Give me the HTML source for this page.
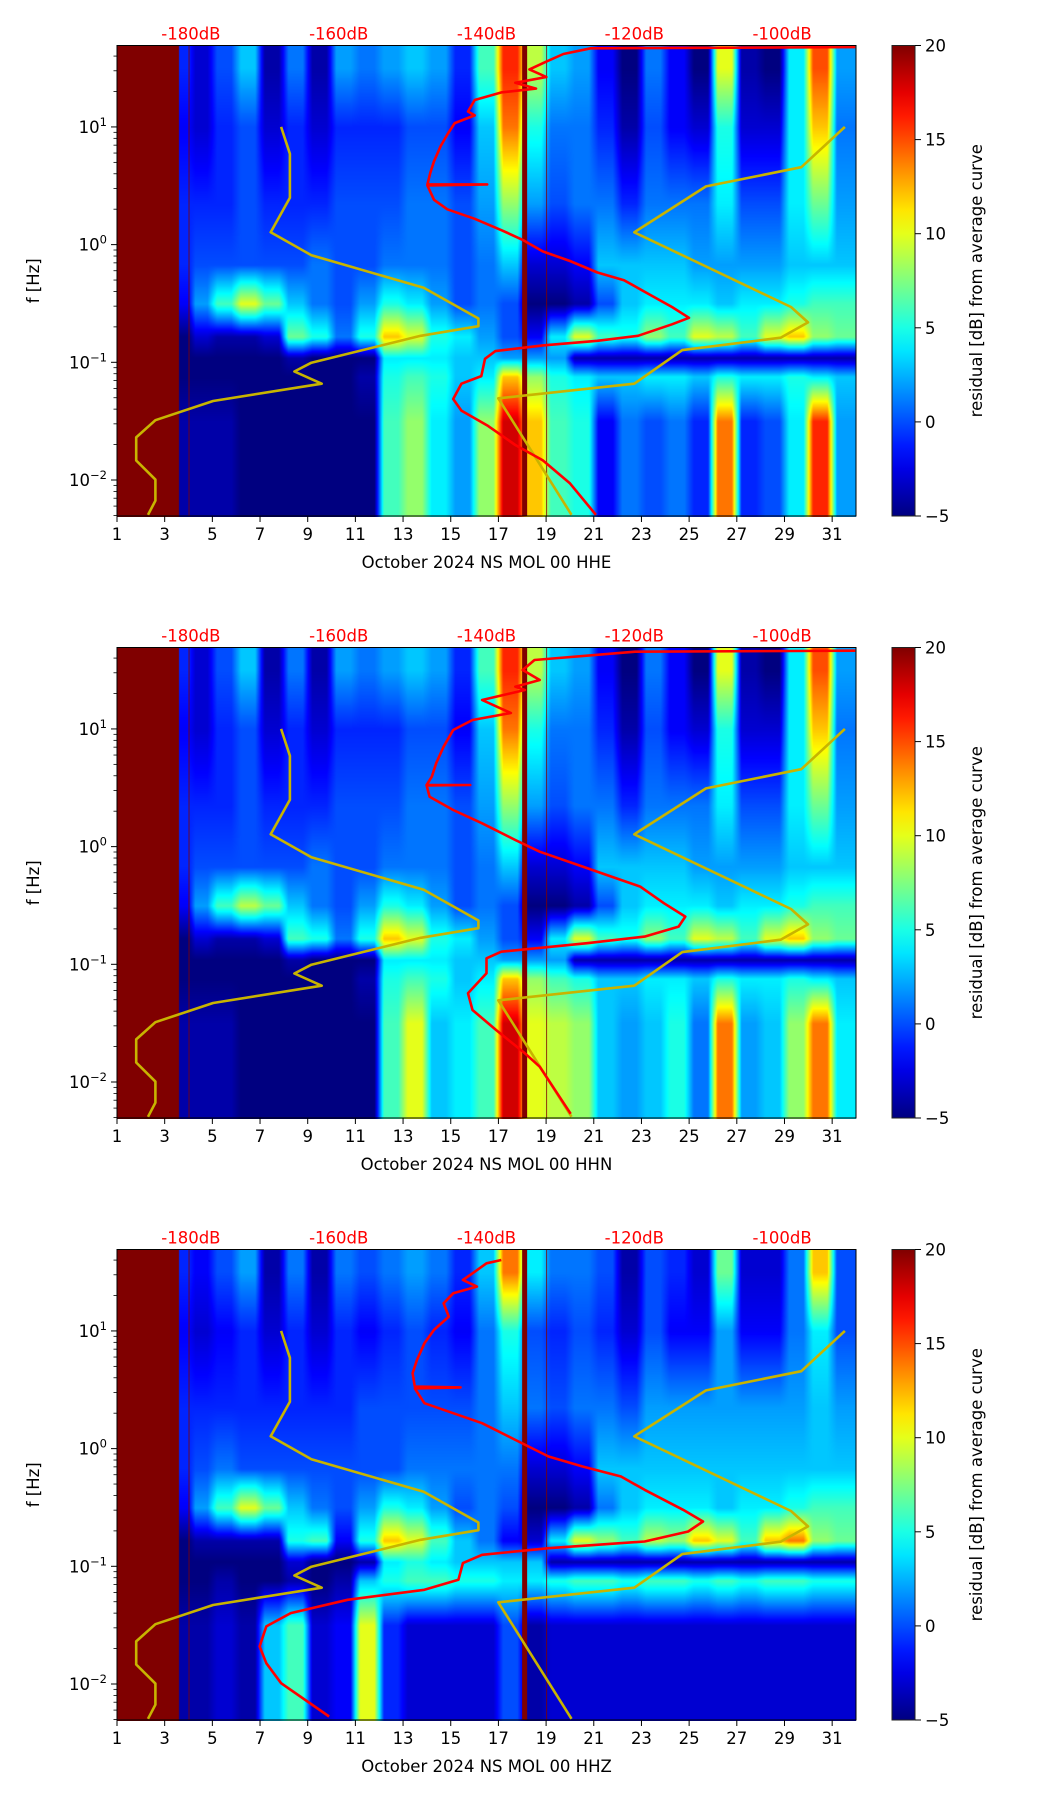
<!DOCTYPE html>
<html><head><meta charset="utf-8">
<style>
html,body{margin:0;padding:0;background:#fff;}
#root{position:relative;width:1052px;height:1806px;overflow:hidden;background:#fff;font-family:"DejaVu Sans","Liberation Sans",sans-serif;}
canvas{position:absolute;}
svg{position:absolute;left:0;top:0;}
</style></head>
<body>
<div id="root">
<canvas id="c0"></canvas>
<canvas id="c1"></canvas>
<canvas id="c2"></canvas>
<svg id="ov" width="1052" height="1806"></svg>
</div>
<script>
// ---- data ----
const columnDays = [3.8,4.5,5.5,6.5,7.5,8.5,9.5,10.5,11.5,12.5,13.5,14.5,15.5,16.5,17.5,18.5,19.5,20.5,21.5,22.5,23.5,24.5,25.5,26.5,27.5,28.5,29.5,30.5,31.5];
const bandLog10F = [1.5,1.0,0.35,-0.17,-0.5,-0.78,-0.96,-1.12,-1.5];
const p1B0=[-1,-3,0,3,-4,1,-4,2,1,2,3,2,-1,6,16,9,3,2,-2,-5,1,-2,-5,10,-4,-5,4,15,2];
const p1B1=[-2,-3,-1,0,-3,-1,-3,-1,-1,-1,0,0,-2,3,14,5,1,1,-1,-4,0,-2,-3,5,-3,-3,4,12,1];
const p1B2=[-1,-1,-1,0,-1,-1,-1,0,0,0,1,1,0,2,8,2,0,1,1,-1,1,1,1,4,0,0,4,7,2];
const p1B3=[-1,0,0,0,0,0,1,0,0,1,1,1,0,1,3,-3,-3,-2,3,3,3,3,2,2,2,2,3,3,3];
const p1B4=[-2,2,6,10,7,3,1,0,2,5,4,2,0,1,0,-5,-5,-4,0,3,4,4,4,3,4,4,5,6,6];
const p1B5=[-5,-3,-4,-4,-3,7,5,1,5,12,10,5,4,2,0,-2,4,10,6,5,8,6,10,9,6,10,12,8,7];
const p1B6=[-5,-5,-5,-5,-5,-4,-5,-5,-5,4,4,4,3,3,2,2,2,-4,-4,-4,-4,-4,-4,-4,-4,-4,-4,-4,-4];
const p1B7=[-5,-5,-5,-5,-5,-5,-5,-5,-4,5,6,5,3,4,12,8,5,4,3,3,4,4,3,5,4,4,5,4,3];
const p1B8=[-4,-4,-4,-5,-5,-5,-5,-5,-5,6,8,4,2,8,18,12,6,5,-2,1,0,1,-1,14,-1,0,4,16,2];
const p2B0=[-1,-3,0,3,-4,1,-4,2,1,2,3,2,-1,6,16,9,3,2,-2,-5,1,-2,-5,10,-4,-5,4,15,2];
const p2B1=[-2,-3,-1,0,-3,-1,-3,-1,-1,-1,0,0,-2,3,14,5,1,1,-1,-4,0,-2,-3,5,-3,-3,4,12,1];
const p2B2=[-1,-1,-1,0,-1,-1,-1,0,0,0,1,1,0,2,8,2,0,1,1,-1,1,1,1,4,0,0,4,7,2];
const p2B3=[-1,0,0,0,0,0,1,0,0,1,1,1,0,1,3,-3,-3,-2,3,3,3,3,2,2,2,2,3,3,3];
const p2B4=[-2,2,6,9,7,3,1,0,2,5,4,2,0,1,0,-5,-5,-4,0,3,4,4,4,3,4,4,5,6,6];
const p2B5=[-5,-3,-4,-4,-3,6,5,1,5,12,10,5,4,2,0,-2,4,10,6,5,8,6,10,9,6,10,12,8,7];
const p2B6=[-5,-5,-5,-5,-5,-4,-5,-5,-5,4,4,4,3,3,2,2,2,-4,-4,-4,-4,-4,-4,-4,-4,-4,-4,-4,-4];
const p2B7=[-5,-5,-5,-5,-5,-5,-5,-5,-4,5,6,5,3,4,12,8,6,5,3,3,4,4,3,5,4,4,5,4,3];
const p2B8=[-4,-4,-4,-5,-5,-5,-5,-5,-5,6,10,3,4,6,18,10,9,8,3,2,3,5,1,14,2,3,8,14,4];
const p3B0=[-1,-2,0,2,-4,1,-4,1,0,1,2,1,-1,3,14,4,1,1,0,-4,0,-1,-3,7,-3,-3,1,12,0];
const p3B1=[-2,-3,-2,-1,-3,-1,-3,-1,-2,-1,0,-1,-2,1,5,0,-1,0,-1,-3,0,-2,-2,2,-2,-2,1,4,0];
const p3B2=[-1,-1,-1,-1,-1,-1,-1,-1,0,0,0,0,0,1,3,1,0,1,1,0,2,2,2,2,2,2,2,3,2];
const p3B3=[-1,0,1,0,0,0,0,0,0,0,1,1,1,1,1,-3,-3,-2,3,3,3,3,3,3,3,3,3,3,3];
const p3B4=[-2,2,6,10,7,3,1,0,2,5,4,2,0,1,0,-5,-5,-4,1,3,4,4,4,3,4,4,5,6,6];
const p3B5=[-5,-4,-4,-4,-4,5,6,-2,5,12,10,6,3,1,-2,-3,4,10,8,6,9,8,12,10,6,12,14,8,7];
const p3B6=[-5,-5,-5,-5,-5,-3,-5,-5,-4,4,5,4,3,3,3,3,-4,-4,-4,-4,-4,-4,-4,-4,-4,-4,-4,-4,-4];
const p3B7=[-5,-5,-4,-5,-5,-4,-5,-4,3,5,6,6,5,5,4,4,5,6,6,5,6,6,5,6,5,6,6,5,5];
const p3B8=[-4,-4,-3,-4,3,6,-3,-2,10,-1,-3,-3,-3,-3,0,-4,-3,-3,-3,-3,-3,-3,-3,-3,-3,-3,-3,-3,-3];

const red1Db=[-90.1,-125.9,-129.6,-131.9,-134.2,-131.9,-136.1,-133.3,-137.9,-141.6,-142.5,-141.6,-144.3,-145.3,-146.2,-147.1,-147.6,-148.0,-139.9,-148.0,-147.1,-145.3,-141.6,-137.9,-135.1,-132.4,-128.7,-125.0,-121.4,-117.7,-114.9,-112.6,-114.9,-119.5,-125.0,-132.4,-138.8,-140.2,-140.7,-143.4,-144.5,-143.4,-139.8,-136.1,-132.4,-128.7,-125.2];
const red1LogF=[1.678,1.668,1.62,1.555,1.489,1.424,1.375,1.326,1.294,1.229,1.131,1.098,1.033,0.935,0.838,0.708,0.61,0.512,0.512,0.502,0.381,0.3,0.219,0.121,0.04,-0.058,-0.139,-0.237,-0.302,-0.432,-0.53,-0.622,-0.677,-0.775,-0.817,-0.856,-0.905,-0.97,-1.117,-1.182,-1.312,-1.41,-1.54,-1.703,-1.833,-2.029,-2.296];
const red2Db=[-90.1,-119.9,-133.5,-135.1,-132.8,-136.1,-134.8,-140.6,-136.7,-141.9,-144.5,-145.8,-146.8,-147.4,-148.1,-142.2,-148.1,-147.7,-144.5,-140.6,-136.1,-132.8,-127.6,-123.1,-119.2,-116.0,-113.1,-114.0,-118.6,-126.4,-138.0,-140.0,-140.0,-142.5,-141.9,-138.7,-134.8,-132.8,-128.6];
const red2LogF=[1.665,1.656,1.586,1.501,1.416,1.359,1.331,1.246,1.135,1.076,0.991,0.849,0.71,0.594,0.524,0.524,0.52,0.424,0.311,0.198,0.056,-0.043,-0.156,-0.255,-0.34,-0.481,-0.595,-0.68,-0.765,-0.821,-0.893,-0.949,-1.076,-1.246,-1.388,-1.558,-1.756,-1.87,-2.27];
const red3Db=[-138.0,-140.0,-141.9,-143.2,-141.3,-144.5,-145.8,-145.1,-147.1,-148.4,-149.4,-150.0,-149.7,-143.5,-149.7,-148.4,-144.5,-140.6,-136.1,-131.6,-127.0,-121.8,-118.6,-113.4,-110.7,-112.7,-118.6,-131.6,-140.6,-143.2,-143.8,-148.4,-158.8,-166.5,-169.8,-170.7,-169.8,-167.8,-161.3];
const red3LogF=[1.603,1.575,1.49,1.433,1.377,1.32,1.235,1.122,1.009,0.895,0.754,0.641,0.527,0.52,0.512,0.386,0.301,0.216,0.074,-0.067,-0.152,-0.237,-0.35,-0.52,-0.619,-0.704,-0.789,-0.846,-0.902,-0.973,-1.115,-1.2,-1.285,-1.398,-1.511,-1.681,-1.823,-1.993,-2.276];
const nlnmDb=[-167.8,-166.6,-166.6,-169.2,-163.7,-148.5,-141.1,-141.1,-148.9,-163.7,-166.0,-162.3,-177.0,-184.8,-187.4,-187.4,-184.8,-184.8,-185.8];
const nlnmLogF=[1.0,0.772,0.398,0.105,-0.09,-0.367,-0.628,-0.693,-0.775,-1.003,-1.078,-1.182,-1.329,-1.492,-1.638,-1.834,-1.997,-2.176,-2.296];
const nhnmDb=[-91.5,-97.4,-110.3,-120.0,-98.8,-96.5,-100.2,-113.5,-120.0,-138.4,-128.5];
const nhnmLogF=[1.0,0.658,0.495,0.105,-0.53,-0.661,-0.791,-0.896,-1.182,-1.306,-2.296];
const dayTicks=[1,3,5,7,9,11,13,15,17,19,21,23,25,27,29,31];
const dbTicks=[-180,-160,-140,-120,-100];
const cbTicks=[20,15,10,5,0,-5];
const decades=[1,0,-1,-2];
const titles=["October 2024 NS MOL 00 HHE","October 2024 NS MOL 00 HHN","October 2024 NS MOL 00 HHZ"];
const gapDay=18.1, dataStartDay=3.6;

// ---- geometry ----
const L=117, R=856, W=R-L, H=470.5, TOPS=[45.5,647.5,1249.5];
const LFMAX=1.692, LFMIN=-2.306;
const xDay=d=>L+(d-1)/31*W;
const xDb=db=>L+(db+190)/100*W;
const yLF=(lf,t)=>t+(LFMAX-lf)/(LFMAX-LFMIN)*H;
function jet(v){const t=Math.max(0,Math.min(1,(v+5)/25));const c=x=>Math.round(255*Math.max(0,Math.min(1,1.5-Math.abs(x))));return [c(4*t-3),c(4*t-2),c(4*t-1)];}

const panels=[[p1B0,p1B1,p1B2,p1B3,p1B4,p1B5,p1B6,p1B7,p1B8],[p2B0,p2B1,p2B2,p2B3,p2B4,p2B5,p2B6,p2B7,p2B8],[p3B0,p3B1,p3B2,p3B3,p3B4,p3B5,p3B6,p3B7,p3B8]];
function interp1(xs,x){
  if(x<=xs[0])return[0,0]; if(x>=xs[xs.length-1])return[xs.length-2,1];
  for(let i=0;i<xs.length-1;i++){if(x<=xs[i+1])return[i,(x-xs[i])/(xs[i+1]-xs[i])];}
}
const bandAsc=bandLog10F.map((v,i)=>({v,i})).reverse();
const lfsAsc=bandAsc.map(o=>o.v);
function valueAt(bands,day,lf){
  if(day<dataStartDay)return 20;
  let [ci,cf]=interp1(columnDays,day);
  cf=Math.max(0,Math.min(1,(cf-0.3)/0.4));
  const [bi,bf]=interp1(lfsAsc,lf);
  const b0=bands[bandAsc[bi].i], b1=bands[bandAsc[bi+1].i];
  const v0=b0[ci]*(1-cf)+b0[ci+1]*cf, v1=b1[ci]*(1-cf)+b1[ci+1]*cf;
  return v0*(1-bf)+v1*bf;
}
const cw=Math.round(W), ch=Math.round(H);
panels.forEach((bands,p)=>{
  const cv=document.getElementById('c'+p);
  cv.width=cw;cv.height=ch;cv.style.left=L+'px';cv.style.top=Math.round(TOPS[p])+'px';
  const ctx=cv.getContext('2d');const img=ctx.createImageData(cw,ch);
  for(let x=0;x<cw;x++){const day=1+(x+0.5)/W*31;
    for(let y=0;y<ch;y++){const lf=LFMAX-(y+0.5)/H*(LFMAX-LFMIN);
      const [r,g,b]=jet(valueAt(bands,day,lf));const k=(y*cw+x)*4;
      img.data[k]=r;img.data[k+1]=g;img.data[k+2]=b;img.data[k+3]=255;}}
  ctx.putImageData(img,0,0);
});

// ---- svg ----
const NS='http://www.w3.org/2000/svg', ov=document.getElementById('ov');
function mk(tag,attrs,parent){const e=document.createElementNS(NS,tag);for(const k in attrs)e.setAttribute(k,attrs[k]);(parent||ov).appendChild(e);return e;}
const FONT='"DejaVu Sans","Liberation Sans",sans-serif';
function pathFrom(dbs,lfs,t){return dbs.map((d,i)=>(i?'L':'M')+xDb(d).toFixed(1)+' '+yLF(lfs[i],t).toFixed(1)).join(' ');}
const reds=[[red1Db,red1LogF],[red2Db,red2LogF],[red3Db,red3LogF]];
const cmTop='#800000';
TOPS.forEach((t,p)=>{
  const g=mk('g',{});
  
  
  const clip=mk('clipPath',{id:'clip'+p},g);mk('rect',{x:L,y:t,width:W,height:H},clip);
  const gap=mk('rect',{x:xDay(gapDay)-2.5,y:t,width:5,height:H,fill:cmTop},g);
  
  
  mk('rect',{x:xDay(4.0),y:t,width:1,height:H,fill:cmTop,opacity:0.8},g);
  mk('rect',{x:xDay(19.0),y:t,width:1,height:H,fill:cmTop,opacity:0.8},g);
  const lg=mk('g',{'clip-path':'url(#clip'+p+')'},g);
  const nl=mk('path',{d:pathFrom(nlnmDb,nlnmLogF,t),fill:'none',stroke:'#c8b400','stroke-width':2.6,'stroke-linejoin':'round'},lg);
  
  
  const nh=mk('path',{d:pathFrom(nhnmDb,nhnmLogF,t),fill:'none',stroke:'#c8b400','stroke-width':2.6,'stroke-linejoin':'round'},lg);
  
  
  const rc=mk('path',{d:pathFrom(reds[p][0],reds[p][1],t),fill:'none',stroke:'#ff0000','stroke-width':2.6,'stroke-linejoin':'round'},lg);
  
  
  mk('rect',{x:L,y:t,width:W,height:H,fill:'none',stroke:'#000','stroke-width':1},g);
  dayTicks.forEach(d=>{const x=xDay(d);mk('line',{x1:x,x2:x,y1:t+H,y2:t+H+6,stroke:'#000','stroke-width':1},g);
    const tx=mk('text',{x:x,y:t+H+24,'font-size':16.5,'text-anchor':'middle','font-family':FONT,fill:'#000'},g);tx.textContent=d;
    
    });
  const xt=mk('text',{x:L+W/2,y:t+H+52,'font-size':16.5,'text-anchor':'middle','font-family':FONT,fill:'#000'},g);xt.textContent=titles[p];
  
  
  dbTicks.forEach(db=>{const tx=mk('text',{x:xDb(db),y:t-6,'font-size':16.5,'text-anchor':'middle','font-family':FONT,fill:'#ff0000'},g);tx.textContent=db+'dB';
    
    });
  for(let e=-3;e<=1;e++){for(let m=1;m<=9;m++){const lf=e+Math.log10(m);if(lf<LFMIN||lf>LFMAX)continue;const y=yLF(lf,t);
    mk('line',{x1:L-(m===1?6:3.5),x2:L,y1:y,y2:y,stroke:'#000','stroke-width':m===1?1:0.8},g);}}
  decades.forEach(e=>{const y=yLF(e,t);const tx=mk('text',{x:L-10,y:y+6,'font-size':16.5,'text-anchor':'end','font-family':FONT,fill:'#000'},g);
    
    
    const a=document.createElementNS(NS,'tspan');a.textContent='10';tx.appendChild(a);
    const b=document.createElementNS(NS,'tspan');b.setAttribute('dy','-7');b.setAttribute('font-size','11.5');b.textContent=(e<0?'\u2212'+(-e):e);tx.appendChild(b);});
  const yt=mk('text',{x:0,y:0,'font-size':16.5,'text-anchor':'middle','font-family':FONT,fill:'#000',transform:'translate(39,'+(t+H/2)+') rotate(-90)'},g);yt.textContent='f [Hz]';
  
  
  const gid='cbg'+p;const grad=mk('linearGradient',{id:gid,x1:0,y1:1,x2:0,y2:0},g);
  for(let i=0;i<=20;i++){const v=-5+25*i/20;const [r,gg,b]=jet(v);mk('stop',{offset:(i/20),'stop-color':'rgb('+r+','+gg+','+b+')'},grad);}
  const cb=mk('rect',{x:892,y:t,width:23,height:H,fill:'url(#'+gid+')',stroke:'#222','stroke-width':1},g);
  
  
  cbTicks.forEach(v=>{const y=t+(20-v)/25*H;mk('line',{x1:915,x2:921,y1:y,y2:y,stroke:'#000'},g);
    const tx=mk('text',{x:925,y:y+6,'font-size':16.5,'font-family':FONT,fill:'#000'},g);tx.textContent=v<0?'\u2212'+(-v):v;
    
    });
  const cl=mk('text',{x:0,y:0,'font-size':16.5,'text-anchor':'middle','font-family':FONT,fill:'#000',transform:'translate(982,'+(t+H/2)+') rotate(-90)'},g);cl.textContent='residual [dB] from average curve';
  
  
});
</script>
</body></html>
